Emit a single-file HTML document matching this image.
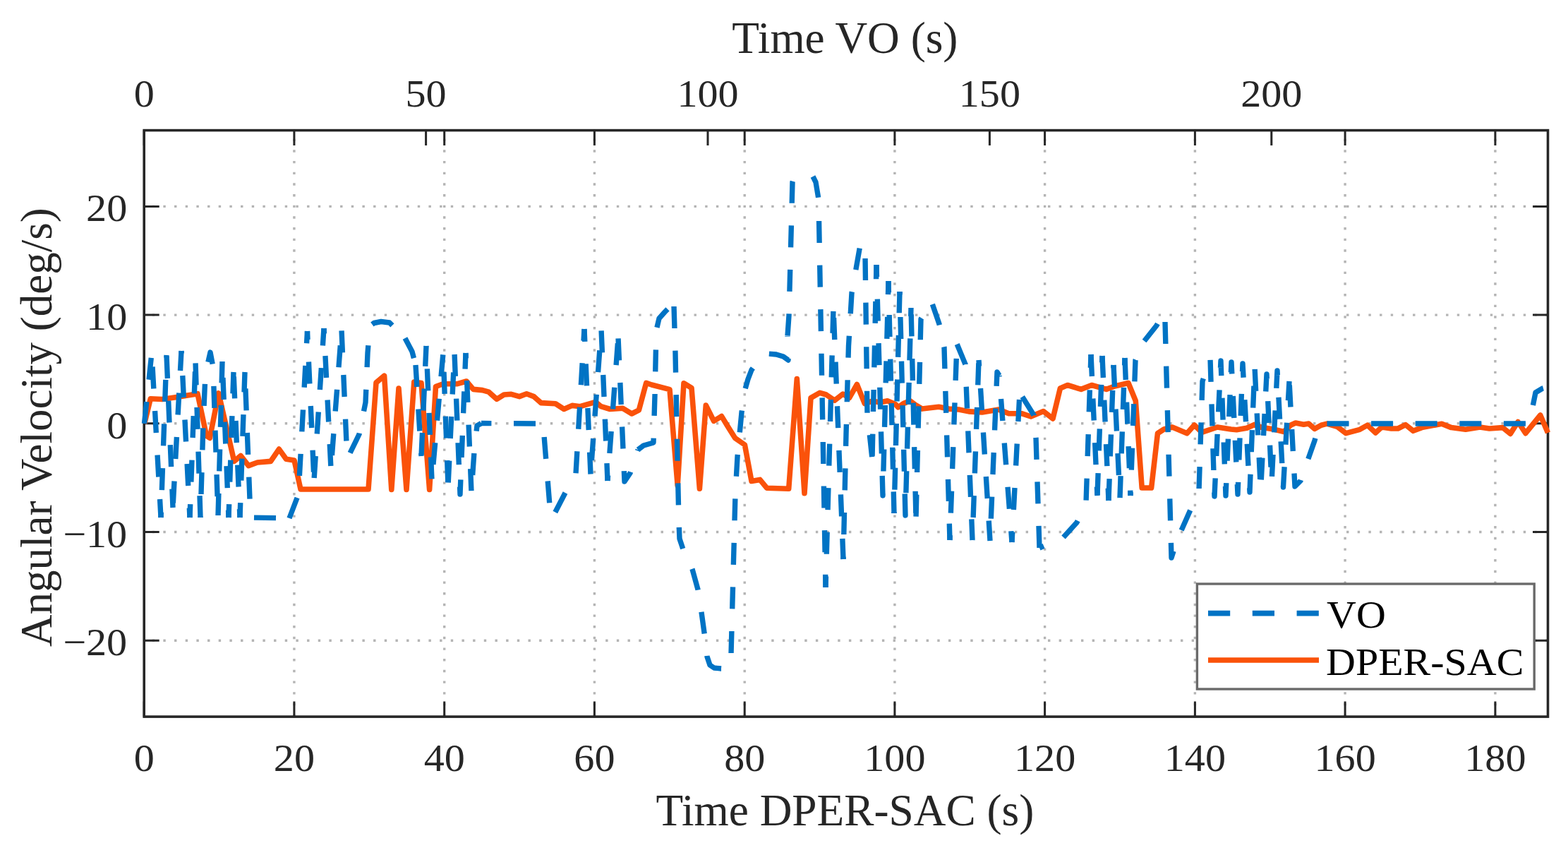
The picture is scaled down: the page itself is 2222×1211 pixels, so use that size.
<!DOCTYPE html><html><head><meta charset="utf-8"><style>html,body{margin:0;padding:0;background:#fff;overflow:hidden}svg{display:block}text{font-family:"Liberation Serif","Times New Roman",serif}</style></head><body>
<svg width="2222" height="1211" viewBox="0 0 2222 1211">
<rect width="2222" height="1211" fill="#fff"/>
<path d="M416.9 1015.1V184.6M629.7 1015.1V184.6M842.4 1015.1V184.6M1055.2 1015.1V184.6M1267.9 1015.1V184.6M1480.6 1015.1V184.6M1693.4 1015.1V184.6M1906.1 1015.1V184.6M2118.9 1015.1V184.6" stroke="#b4b4b4" stroke-width="3.4" stroke-dasharray="3.4 12.27" stroke-dashoffset="-0.23" fill="none"/>
<path d="M204.2 907.2H2193.5M204.2 753.5H2193.5M204.2 599.8H2193.5M204.2 446.1H2193.5M204.2 292.4H2193.5" stroke="#b4b4b4" stroke-width="3.4" stroke-dasharray="3.4 12.27" stroke-dashoffset="-11.5" fill="none"/>
<path d="M204.2 1015.1v-21.5M204.2 184.6v21.5M416.9 1015.1v-21.5M416.9 184.6v21.5M629.7 1015.1v-21.5M629.7 184.6v21.5M842.4 1015.1v-21.5M842.4 184.6v21.5M1055.2 1015.1v-21.5M1055.2 184.6v21.5M1267.9 1015.1v-21.5M1267.9 184.6v21.5M1480.6 1015.1v-21.5M1480.6 184.6v21.5M1693.4 1015.1v-21.5M1693.4 184.6v21.5M1906.1 1015.1v-21.5M1906.1 184.6v21.5M2118.9 1015.1v-21.5M2118.9 184.6v21.5M204.2 184.6v21.5M603.6 184.6v21.5M1003.0 184.6v21.5M1402.4 184.6v21.5M1801.8 184.6v21.5M204.2 907.2h21.5M2193.5 907.2h-21.5M204.2 753.5h21.5M2193.5 753.5h-21.5M204.2 599.8h21.5M2193.5 599.8h-21.5M204.2 446.1h21.5M2193.5 446.1h-21.5M204.2 292.4h21.5M2193.5 292.4h-21.5" stroke="#262626" stroke-width="3" fill="none"/>
<rect x="204.2" y="184.6" width="1989.3" height="830.5" stroke="#262626" stroke-width="3.6" fill="none"/>
<g fill="none" stroke-linejoin="round">
<polyline points="204.7,600.0 213.3,564.7 229.8,565.5 247.0,563.0 275.3,558.4 280.0,557.7 292.6,617.3 297.3,620.4 309.8,556.9 331.8,653.4 341.2,645.5 352.2,659.6 364.8,655.0 383.6,653.4 395.4,636.1 405.5,650.2 417.0,652.0 426.0,693.0 522.0,693.0 533.0,542.0 544.6,532.2 554.8,693.5 565.0,550.0 576.0,693.5 586.8,541.0 597.0,542.4 608.6,693.5 617.5,547.5 627.8,543.7 648.2,543.7 661.0,540.0 670.7,551.4 683.5,552.6 692.5,555.2 704.0,565.4 714.2,559.0 724.5,558.3 736.0,561.6 746.2,557.8 756.5,561.6 766.7,570.6 787.2,571.8 799.2,579.5 810.7,574.4 822.2,575.7 844.0,569.3 851.7,575.7 864.5,579.5 882.4,578.2 895.2,586.0 905.4,580.8 915.7,542.4 923.4,545.0 949.0,551.6 960.2,687.7 969.0,542.7 980.0,549.4 991.4,692.2 1000.3,574.0 1011.5,596.3 1022.6,589.6 1030.7,603.0 1041.5,620.3 1055.4,630.0 1065.0,681.5 1076.9,679.4 1086.6,691.2 1117.7,692.3 1129.3,536.5 1140.0,698.8 1149.0,563.6 1161.8,556.3 1170.8,559.0 1182.6,567.2 1194.5,558.1 1203.5,563.6 1214.4,544.5 1225.3,571.7 1236.2,568.1 1247.1,569.9 1257.6,567.8 1268.9,572.5 1272.7,576.8 1280.2,571.6 1289.7,567.8 1297.3,573.5 1306.7,579.1 1330.3,576.3 1344.5,579.1 1358.7,580.0 1372.9,582.9 1391.8,583.9 1415.4,580.1 1429.6,585.8 1448.5,585.8 1460.8,590.0 1478.6,582.6 1492.0,593.0 1502.4,550.0 1512.8,545.5 1532.0,551.4 1547.0,545.5 1567.8,551.4 1579.7,547.0 1599.0,542.5 1609.3,567.8 1618.2,691.0 1631.6,691.0 1640.5,613.8 1649.4,608.0 1661.3,605.0 1682.1,613.8 1692.5,602.0 1703.0,612.4 1725.2,605.0 1744.5,608.0 1752.4,608.8 1766.9,606.3 1778.2,601.2 1787.5,605.3 1802.0,607.4 1819.5,611.5 1828.8,602.2 1836.0,599.0 1847.4,601.2 1854.6,600.1 1862.9,607.4 1872.2,602.2 1880.5,600.1 1894.9,604.3 1907.3,613.6 1927.0,608.3 1937.8,602.2 1949.3,613.0 1958.0,605.0 1971.6,607.0 1981.0,607.0 1991.8,601.6 2002.6,610.3 2014.8,605.6 2043.1,600.2 2056.6,605.6 2076.9,608.3 2097.1,605.0 2110.6,607.0 2129.5,605.6 2140.3,614.4 2151.1,597.5 2161.9,613.7 2182.8,588.0 2193.5,613.0" stroke="#fa520a" stroke-width="7.6"/>
<polyline points="204.5,600.0 215.0,500.0" stroke="#0073c4" stroke-width="7.4" stroke-dasharray="31.0 31.6" stroke-dashoffset="0.00"/>
<polyline points="215.0,500.0 228.0,733.0" stroke="#0073c4" stroke-width="7.4" stroke-dasharray="31.0 31.6" stroke-dashoffset="43.07"/>
<polyline points="228.0,733.0 236.0,503.0" stroke="#0073c4" stroke-width="7.4" stroke-dasharray="31.0 31.6" stroke-dashoffset="23.58"/>
<polyline points="236.0,503.0 245.0,719.0" stroke="#0073c4" stroke-width="7.4" stroke-dasharray="31.0 31.6" stroke-dashoffset="60.60"/>
<polyline points="245.0,719.0 257.0,497.0" stroke="#0073c4" stroke-width="7.4" stroke-dasharray="31.0 31.6" stroke-dashoffset="56.10"/>
<polyline points="257.0,497.0 269.0,733.0" stroke="#0073c4" stroke-width="7.4" stroke-dasharray="31.0 31.6" stroke-dashoffset="27.55"/>
<polyline points="269.0,733.0 277.0,513.0" stroke="#0073c4" stroke-width="7.4" stroke-dasharray="31.0 31.6" stroke-dashoffset="12.13"/>
<polyline points="277.0,513.0 284.0,733.0" stroke="#0073c4" stroke-width="7.4" stroke-dasharray="31.0 31.6" stroke-dashoffset="61.17"/>
<polyline points="284.0,733.0 288.0,600.0 291.0,530.0 298.0,499.0 302.0,520.0" stroke="#0073c4" stroke-width="7.4" stroke-dasharray="31.0 31.6" stroke-dashoffset="29.59"/>
<polyline points="302.0,520.0 309.0,731.0" stroke="#0073c4" stroke-width="7.4" stroke-dasharray="31.0 31.6" stroke-dashoffset="35.59"/>
<polyline points="309.0,731.0 315.0,512.0" stroke="#0073c4" stroke-width="7.4" stroke-dasharray="31.0 31.6" stroke-dashoffset="61.60"/>
<polyline points="315.0,512.0 324.0,733.0" stroke="#0073c4" stroke-width="7.4" stroke-dasharray="31.0 31.6" stroke-dashoffset="39.58"/>
<polyline points="324.0,733.0 331.0,527.0" stroke="#0073c4" stroke-width="7.4" stroke-dasharray="31.0 31.6" stroke-dashoffset="12.13"/>
<polyline points="331.0,527.0 340.0,733.0" stroke="#0073c4" stroke-width="7.4" stroke-dasharray="31.0 31.6" stroke-dashoffset="56.13"/>
<polyline points="340.0,733.0 347.0,527.0" stroke="#0073c4" stroke-width="7.4" stroke-dasharray="31.0 31.6" stroke-dashoffset="10.13"/>
<polyline points="347.0,527.0 355.0,733.0" stroke="#0073c4" stroke-width="7.4" stroke-dasharray="31.0 31.6" stroke-dashoffset="39.14"/>
<polyline points="355.0,733.0 410.0,734.0" stroke="#0073c4" stroke-width="7.4" stroke-dasharray="31.0 31.6" stroke-dashoffset="57.60"/>
<polyline points="410.0,734.0 423.0,700.0 435.5,469.0" stroke="#0073c4" stroke-width="7.4" stroke-dasharray="31.0 31.6" stroke-dashoffset="0.00"/>
<polyline points="435.5,469.0 445.0,680.0" stroke="#0073c4" stroke-width="7.4" stroke-dasharray="31.0 31.6" stroke-dashoffset="19.06"/>
<polyline points="445.0,680.0 459.0,465.0" stroke="#0073c4" stroke-width="7.4" stroke-dasharray="31.0 31.6" stroke-dashoffset="59.59"/>
<polyline points="459.0,465.0 469.0,664.0" stroke="#0073c4" stroke-width="7.4" stroke-dasharray="31.0 31.6" stroke-dashoffset="23.55"/>
<polyline points="469.0,664.0 484.0,467.0" stroke="#0073c4" stroke-width="7.4" stroke-dasharray="31.0 31.6" stroke-dashoffset="43.55"/>
<polyline points="484.0,467.0 492.0,650.0" stroke="#0073c4" stroke-width="7.4" stroke-dasharray="31.0 31.6" stroke-dashoffset="61.14"/>
<polyline points="492.0,650.0 509.0,615.0 518.0,570.0 521.0,500.0 524.0,462.0 530.0,457.5 540.0,455.5 552.0,457.0 574.0,479.0" stroke="#0073c4" stroke-width="7.4" stroke-dasharray="31.0 31.6" stroke-dashoffset="53.15"/>
<polyline points="574.0,479.0 584.0,498.0 589.0,517.0" stroke="#0073c4" stroke-width="7.4" stroke-dasharray="31.0 31.6" stroke-dashoffset="0.00"/>
<polyline points="589.0,517.0 597.0,646.0" stroke="#0073c4" stroke-width="7.4" stroke-dasharray="31.0 31.6" stroke-dashoffset="0.00"/>
<polyline points="597.0,646.0 604.0,490.0" stroke="#0073c4" stroke-width="7.4" stroke-dasharray="31.0 31.6" stroke-dashoffset="60.60"/>
<polyline points="604.0,490.0 612.0,680.0" stroke="#0073c4" stroke-width="7.4" stroke-dasharray="31.0 31.6" stroke-dashoffset="30.17"/>
<polyline points="612.0,680.0 628.0,500.0" stroke="#0073c4" stroke-width="7.4" stroke-dasharray="31.0 31.6" stroke-dashoffset="40.51"/>
<polyline points="628.0,500.0 635.0,688.0" stroke="#0073c4" stroke-width="7.4" stroke-dasharray="31.0 31.6" stroke-dashoffset="35.58"/>
<polyline points="635.0,688.0 644.0,500.0" stroke="#0073c4" stroke-width="7.4" stroke-dasharray="31.0 31.6" stroke-dashoffset="58.12"/>
<polyline points="644.0,500.0 652.0,700.0 660.0,500.0" stroke="#0073c4" stroke-width="7.4" stroke-dasharray="31.0 31.6" stroke-dashoffset="60.60"/>
<polyline points="660.0,500.0 668.0,697.0" stroke="#0073c4" stroke-width="7.4" stroke-dasharray="31.0 31.6" stroke-dashoffset="23.57"/>
<polyline points="668.0,697.0 672.0,640.0 676.0,603.0 682.0,599.5" stroke="#0073c4" stroke-width="7.4" stroke-dasharray="31.0 31.6" stroke-dashoffset="38.54"/>
<polyline points="682.0,599.5 765.0,600.0 771.0,617.0" stroke="#0073c4" stroke-width="7.4" stroke-dasharray="31.0 31.6" stroke-dashoffset="16.60"/>
<polyline points="771.0,617.0 779.0,716.0 785.0,729.0" stroke="#0073c4" stroke-width="7.4" stroke-dasharray="31.0 31.6" stroke-dashoffset="60.59"/>
<polyline points="785.0,729.0 801.0,698.0 816.0,671.0 828.0,466.0" stroke="#0073c4" stroke-width="7.4" stroke-dasharray="31.0 31.6" stroke-dashoffset="58.66"/>
<polyline points="828.0,466.0 837.0,672.0" stroke="#0073c4" stroke-width="7.4" stroke-dasharray="31.0 31.6" stroke-dashoffset="13.09"/>
<polyline points="837.0,672.0 852.0,466.0" stroke="#0073c4" stroke-width="7.4" stroke-dasharray="31.0 31.6" stroke-dashoffset="42.55"/>
<polyline points="852.0,466.0 861.0,681.0" stroke="#0073c4" stroke-width="7.4" stroke-dasharray="31.0 31.6" stroke-dashoffset="60.14"/>
<polyline points="861.0,681.0 876.0,478.0" stroke="#0073c4" stroke-width="7.4" stroke-dasharray="31.0 31.6" stroke-dashoffset="23.49"/>
<polyline points="876.0,478.0 885.0,682.0 893.0,670.0 904.0,637.0" stroke="#0073c4" stroke-width="7.4" stroke-dasharray="31.0 31.6" stroke-dashoffset="61.14"/>
<polyline points="904.0,637.0 912.0,631.0 926.0,627.0 928.0,560.0 930.0,468.0 934.0,451.0 942.0,442.0 950.0,434.0 955.0,433.0" stroke="#0073c4" stroke-width="7.4" stroke-dasharray="31.0 31.6" stroke-dashoffset="0.00"/>
<polyline points="955.0,433.0 957.0,500.0 960.0,650.0 962.0,740.0 963.0,763.0 968.0,778.0 975.0,790.0 981.0,806.0 989.0,835.0 993.0,860.0 998.0,896.0 1002.0,930.0 1006.0,942.0 1012.0,946.0 1022.0,947.0 1031.0,947.0 1036.0,927.0 1042.0,700.0 1045.0,647.0 1051.0,584.0 1056.0,551.0 1060.0,537.0 1065.0,524.0 1075.0,510.0 1088.0,501.0 1100.0,502.0 1110.0,505.0 1117.0,510.0 1116.0,476.0" stroke="#0073c4" stroke-width="7.4" stroke-dasharray="31.0 31.6" stroke-dashoffset="61.60"/>
<polyline points="1116.0,476.0 1118.0,447.0 1123.0,258.0 1125.0,251.0" stroke="#0073c4" stroke-width="7.4" stroke-dasharray="31.0 31.6" stroke-dashoffset="62.00"/>
<polyline points="1125.0,251.0 1152.0,250.0 1156.0,258.0 1160.0,282.0" stroke="#0073c4" stroke-width="7.4" stroke-dasharray="31.0 31.6" stroke-dashoffset="35.58"/>
<polyline points="1160.0,282.0 1170.0,832.0" stroke="#0073c4" stroke-width="7.4" stroke-dasharray="31.0 31.6" stroke-dashoffset="31.59"/>
<polyline points="1170.0,832.0 1181.0,436.0" stroke="#0073c4" stroke-width="7.4" stroke-dasharray="31.0 31.6" stroke-dashoffset="15.31"/>
<polyline points="1181.0,436.0 1195.0,792.0" stroke="#0073c4" stroke-width="7.4" stroke-dasharray="31.0 31.6" stroke-dashoffset="48.44"/>
<polyline points="1195.0,792.0 1199.0,615.0 1202.5,490.0 1207.0,415.0 1219.0,347.0 1226.0,362.0" stroke="#0073c4" stroke-width="7.4" stroke-dasharray="31.0 31.6" stroke-dashoffset="27.59"/>
<polyline points="1226.0,362.0 1229.0,585.0 1236.0,650.0" stroke="#0073c4" stroke-width="7.4" stroke-dasharray="31.0 31.6" stroke-dashoffset="58.60"/>
<polyline points="1236.0,650.0 1242.0,375.0" stroke="#0073c4" stroke-width="7.4" stroke-dasharray="31.0 31.6" stroke-dashoffset="58.18"/>
<polyline points="1242.0,375.0 1251.0,702.0 1259.0,398.0" stroke="#0073c4" stroke-width="7.4" stroke-dasharray="31.0 31.6" stroke-dashoffset="13.98"/>
<polyline points="1259.0,398.0 1267.0,727.0" stroke="#0073c4" stroke-width="7.4" stroke-dasharray="31.0 31.6" stroke-dashoffset="14.59"/>
<polyline points="1267.0,727.0 1275.0,413.0" stroke="#0073c4" stroke-width="7.4" stroke-dasharray="31.0 31.6" stroke-dashoffset="29.17"/>
<polyline points="1275.0,413.0 1283.0,730.0 1291.0,436.0" stroke="#0073c4" stroke-width="7.4" stroke-dasharray="31.0 31.6" stroke-dashoffset="26.59"/>
<polyline points="1291.0,436.0 1298.0,734.0" stroke="#0073c4" stroke-width="7.4" stroke-dasharray="31.0 31.6" stroke-dashoffset="53.18"/>
<polyline points="1298.0,734.0 1305.0,452.0 1320.0,427.0" stroke="#0073c4" stroke-width="7.4" stroke-dasharray="31.0 31.6" stroke-dashoffset="60.18"/>
<polyline points="1320.0,427.0 1331.0,459.0 1338.0,492.0 1346.0,765.0" stroke="#0073c4" stroke-width="7.4" stroke-dasharray="31.0 31.6" stroke-dashoffset="58.37"/>
<polyline points="1346.0,765.0 1356.0,487.0" stroke="#0073c4" stroke-width="7.4" stroke-dasharray="31.0 31.6" stroke-dashoffset="24.13"/>
<polyline points="1356.0,487.0 1368.0,516.0 1378.0,765.0" stroke="#0073c4" stroke-width="7.4" stroke-dasharray="31.0 31.6" stroke-dashoffset="62.06"/>
<polyline points="1378.0,765.0 1387.0,510.0" stroke="#0073c4" stroke-width="7.4" stroke-dasharray="31.0 31.6" stroke-dashoffset="30.58"/>
<polyline points="1387.0,510.0 1403.0,766.0" stroke="#0073c4" stroke-width="7.4" stroke-dasharray="31.0 31.6" stroke-dashoffset="22.52"/>
<polyline points="1403.0,766.0 1413.0,527.0 1416.0,532.0" stroke="#0073c4" stroke-width="7.4" stroke-dasharray="31.0 31.6" stroke-dashoffset="31.12"/>
<polyline points="1416.0,532.0 1434.0,768.0" stroke="#0073c4" stroke-width="7.4" stroke-dasharray="31.0 31.6" stroke-dashoffset="29.50"/>
<polyline points="1434.0,768.0 1445.0,556.0" stroke="#0073c4" stroke-width="7.4" stroke-dasharray="31.0 31.6" stroke-dashoffset="16.54"/>
<polyline points="1445.0,556.0 1465.0,588.0 1468.0,620.0 1473.0,776.0" stroke="#0073c4" stroke-width="7.4" stroke-dasharray="31.0 31.6" stroke-dashoffset="55.52"/>
<polyline points="1473.0,776.0 1507.0,761.0" stroke="#0073c4" stroke-width="7.4" stroke-dasharray="31.0 31.6" stroke-dashoffset="24.35"/>
<polyline points="1507.0,761.0 1526.0,740.0 1539.0,712.0 1546.0,502.0" stroke="#0073c4" stroke-width="7.4" stroke-dasharray="31.0 31.6" stroke-dashoffset="0.00"/>
<polyline points="1546.0,502.0 1555.0,702.0" stroke="#0073c4" stroke-width="7.4" stroke-dasharray="31.0 31.6" stroke-dashoffset="0.00"/>
<polyline points="1555.0,702.0 1562.0,504.0" stroke="#0073c4" stroke-width="7.4" stroke-dasharray="31.0 31.6" stroke-dashoffset="61.60"/>
<polyline points="1562.0,504.0 1571.0,709.0" stroke="#0073c4" stroke-width="7.4" stroke-dasharray="31.0 31.6" stroke-dashoffset="0.00"/>
<polyline points="1571.0,709.0 1578.0,517.0" stroke="#0073c4" stroke-width="7.4" stroke-dasharray="31.0 31.6" stroke-dashoffset="0.00"/>
<polyline points="1578.0,517.0 1587.0,705.0" stroke="#0073c4" stroke-width="7.4" stroke-dasharray="31.0 31.6" stroke-dashoffset="0.00"/>
<polyline points="1587.0,705.0 1594.0,507.0" stroke="#0073c4" stroke-width="7.4" stroke-dasharray="31.0 31.6" stroke-dashoffset="0.00"/>
<polyline points="1594.0,507.0 1602.0,702.0" stroke="#0073c4" stroke-width="7.4" stroke-dasharray="31.0 31.6" stroke-dashoffset="0.00"/>
<polyline points="1602.0,702.0 1609.0,510.0 1620.0,485.0" stroke="#0073c4" stroke-width="7.4" stroke-dasharray="31.0 31.6" stroke-dashoffset="26.13"/>
<polyline points="1620.0,485.0 1639.0,461.0 1647.0,446.0 1651.0,456.0" stroke="#0073c4" stroke-width="7.4" stroke-dasharray="31.0 31.6" stroke-dashoffset="60.05"/>
<polyline points="1651.0,456.0 1660.0,790.0 1668.0,765.0 1687.0,722.0 1699.0,695.0" stroke="#0073c4" stroke-width="7.4" stroke-dasharray="31.0 31.6" stroke-dashoffset="0.00"/>
<polyline points="1699.0,695.0 1704.0,540.0 1715.0,508.0 1721.0,703.0 1730.0,511.0 1737.0,702.0 1745.0,513.0 1754.0,700.0 1761.0,515.0 1771.0,697.0 1778.0,519.0 1786.5,695.0 1795.0,530.0 1802.0,684.0 1810.0,525.0 1818.5,690.0 1827.0,540.0" stroke="#0073c4" stroke-width="7.4" stroke-dasharray="31.0 31.6" stroke-dashoffset="59.60"/>
<polyline points="1827.0,540.0 1835.0,689.0 1843.0,681.0 1863.0,624.0 1870.0,600.0" stroke="#0073c4" stroke-width="7.4" stroke-dasharray="31.0 31.6" stroke-dashoffset="57.10"/>
<polyline points="1870.0,600.0 2167.0,600.0 2172.0,576.0 2176.0,556.0 2186.0,550.0 2193.5,548.0" stroke="#0073c4" stroke-width="7.4" stroke-dasharray="31.0 31.6" stroke-dashoffset="52.10"/>
</g>
<g font-size="57" fill="#262626"><text transform="translate(204.2 1091.5) scale(1.02 0.965)" text-anchor="middle">0</text><text transform="translate(416.9 1091.5) scale(1.02 0.965)" text-anchor="middle">20</text><text transform="translate(629.7 1091.5) scale(1.02 0.965)" text-anchor="middle">40</text><text transform="translate(842.4 1091.5) scale(1.02 0.965)" text-anchor="middle">60</text><text transform="translate(1055.2 1091.5) scale(1.02 0.965)" text-anchor="middle">80</text><text transform="translate(1267.9 1091.5) scale(1.02 0.965)" text-anchor="middle">100</text><text transform="translate(1480.6 1091.5) scale(1.02 0.965)" text-anchor="middle">120</text><text transform="translate(1693.4 1091.5) scale(1.02 0.965)" text-anchor="middle">140</text><text transform="translate(1906.1 1091.5) scale(1.02 0.965)" text-anchor="middle">160</text><text transform="translate(2118.9 1091.5) scale(1.02 0.965)" text-anchor="middle">180</text><text transform="translate(204.2 150.6) scale(1.02 0.965)" text-anchor="middle">0</text><text transform="translate(603.6 150.6) scale(1.02 0.965)" text-anchor="middle">50</text><text transform="translate(1003.0 150.6) scale(1.02 0.965)" text-anchor="middle">100</text><text transform="translate(1402.4 150.6) scale(1.02 0.965)" text-anchor="middle">150</text><text transform="translate(1801.8 150.6) scale(1.02 0.965)" text-anchor="middle">200</text><text transform="translate(180.2 928.2) scale(1.02 0.965)" text-anchor="end">−20</text><text transform="translate(180.2 774.5) scale(1.02 0.965)" text-anchor="end">−10</text><text transform="translate(180.2 620.8) scale(1.02 0.965)" text-anchor="end">0</text><text transform="translate(180.2 467.1) scale(1.02 0.965)" text-anchor="end">10</text><text transform="translate(180.2 313.4) scale(1.02 0.965)" text-anchor="end">20</text></g>
<text x="1197.4" y="74.8" font-size="63.3" fill="#262626" text-anchor="middle">Time VO (s)</text>
<text x="1197.4" y="1168.5" font-size="63.3" fill="#262626" text-anchor="middle">Time DPER-SAC (s)</text>
<text transform="translate(72.7 605.2) rotate(-90)" font-size="63" fill="#262626" text-anchor="middle">Angular Velocity (deg/s)</text>
<rect x="1696.4" y="827.0" width="477.8" height="149.0" fill="#fff" stroke="#6a6a6a" stroke-width="3.4"/>
<path d="M1712 868.6H1869" stroke="#0073c4" stroke-width="7.6" stroke-dasharray="31.2 31.6" fill="none"/>
<path d="M1712 935H1869" stroke="#fa520a" stroke-width="7.6" fill="none"/>
<text transform="translate(1880 889.3) scale(1 0.955)" font-size="58" fill="#000">VO</text>
<text transform="translate(1879 956.1) scale(1 0.955)" font-size="58" fill="#000">DPER-SAC</text>
</svg></body></html>
